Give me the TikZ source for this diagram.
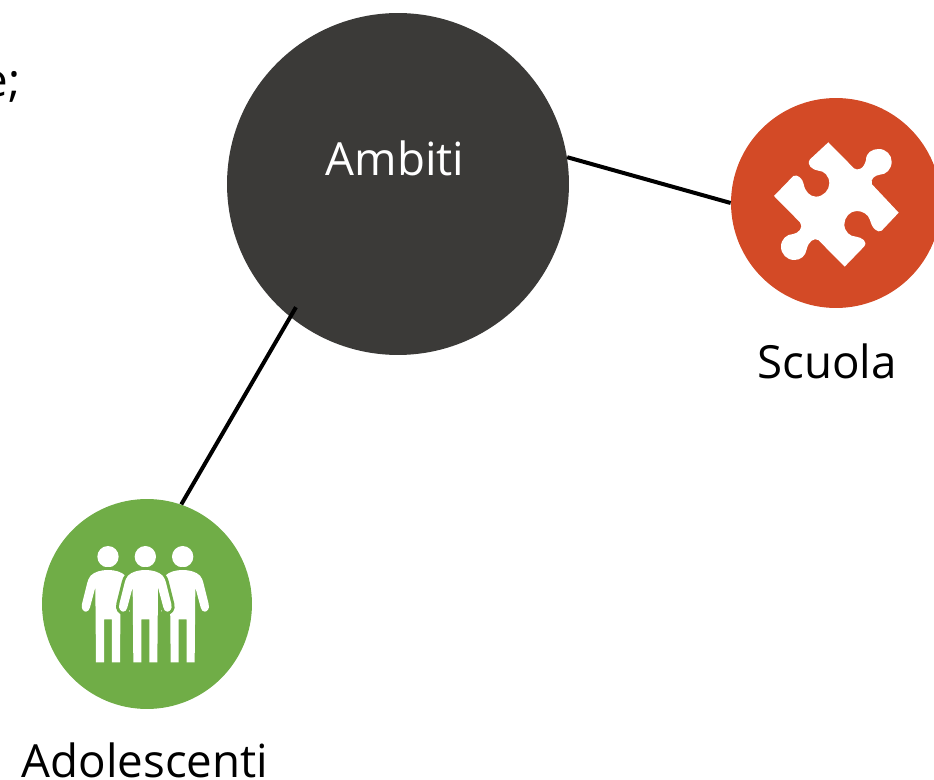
\documentclass[tikz,border=0pt]{standalone}
\usepackage{fontspec}
\usepackage{xcolor}
\usepackage{tikz}
\setmainfont{Open Sans}
\definecolor{ambitigray}{HTML}{3B3A38}
\definecolor{scuolared}{HTML}{D34A26}
\definecolor{adolgreen}{HTML}{70AD47}
\tikzset{
    bigdisc/.style={circle,inner sep=0pt,minimum size=6.84cm,fill=ambitigray},
    smalldisc/.style={circle,inner sep=0pt,minimum size=4.2cm},
    linkline/.style={line width=0.08cm,black},
    caption/.style={anchor=base,inner sep=0pt,font=\fontsize{26}{30}\selectfont}
}
\begin{document}
\begin{tikzpicture}[x=0.02cm,y=-0.02cm]
\useasboundingbox (0,0) rectangle (934,780);
\clip (0,0) rectangle (934,780);
\node[caption,anchor=base east] (cuttext) at (21,97) {e;};
\node[smalldisc,fill=scuolared] (scuola) at (836,203) {};
\node[smalldisc,fill=adolgreen] (adol) at (147,604) {};
\node[bigdisc] (ambiti) at (398,184) {};
\draw[linkline] (ambiti.9) -- (scuola.west);
\draw[linkline,shorten >=-0.23cm] (adol.71) -- (ambiti.231.5);
\node[caption,text=white] (ambititext) at (395,176) {Ambiti};
\node[caption] (scuolatext) at (827,379) {Scuola};
\node[caption] (adoltext) at (145,777) {Adolescenti};
% puzzle piece
\begin{scope}[shift={(740,110)},scale=1/3]
\fill[white] (265,97) -- (342,175) .. controls (352,183) and (372,178) .. (378,150)
    .. controls (378,128) and (396,117) .. (416,117) .. controls (438,117) and (455,134) .. (455,155)
    .. controls (455,178) and (438,194) .. (420,194) .. controls (405,196) and (390,206) .. (396,223)
    -- (476,308) -- (425,362) .. controls (412,370) and (396,355) .. (390,330)
    .. controls (385,313) and (368,303) .. (350,303) .. controls (330,303) and (313,322) .. (313,343)
    .. controls (313,365) and (330,380) .. (348,380) .. controls (365,382) and (385,395) .. (372,410)
    -- (314,470) -- (235,390) .. controls (222,382) and (205,395) .. (200,418)
    .. controls (197,438) and (182,450) .. (163,450) .. controls (140,450) and (123,432) .. (123,410)
    .. controls (123,388) and (140,372) .. (160,372) .. controls (175,370) and (192,352) .. (180,337)
    -- (102,258) -- (160,198) .. controls (172,192) and (188,205) .. (191,222)
    .. controls (195,245) and (210,260) .. (228,260) .. controls (250,260) and (268,240) .. (268,220)
    .. controls (268,198) and (252,182) .. (235,182) .. controls (218,180) and (198,165) .. (210,148)
    -- cycle;
\end{scope}
% three people
\begin{scope}[shift={(60,530)},scale=1/3]
\foreach \k in {144,368,256}
{
    \fill[white] (\k,80) circle (32);
    \path[preaction={draw=adolgreen,line width=0.12cm},fill=white] (\k,120)
        .. controls (\k+20,120) and (\k+40,125) .. (\k+52,137)
        .. controls (\k+58,145) and (\k+60,150) .. (\k+62,158)
        -- (\k+78,222) .. controls (\k+82,238) and (\k+72,245) .. (\k+66,245)
        .. controls (\k+60,245) and (\k+56,240) .. (\k+54,232)
        -- (\k+38,172) -- (\k+36,397) -- (\k+12,397) -- (\k+12,268) -- (\k-12,268) -- (\k-12,397) -- (\k-36,397)
        -- (\k-38,172) -- (\k-54,232)
        .. controls (\k-56,240) and (\k-60,245) .. (\k-66,245)
        .. controls (\k-72,245) and (\k-82,238) .. (\k-78,222)
        -- (\k-62,158) .. controls (\k-60,150) and (\k-58,145) .. (\k-52,137)
        .. controls (\k-40,125) and (\k-20,120) .. (\k,120) -- cycle;
}
\end{scope}
\end{tikzpicture}
\end{document}
